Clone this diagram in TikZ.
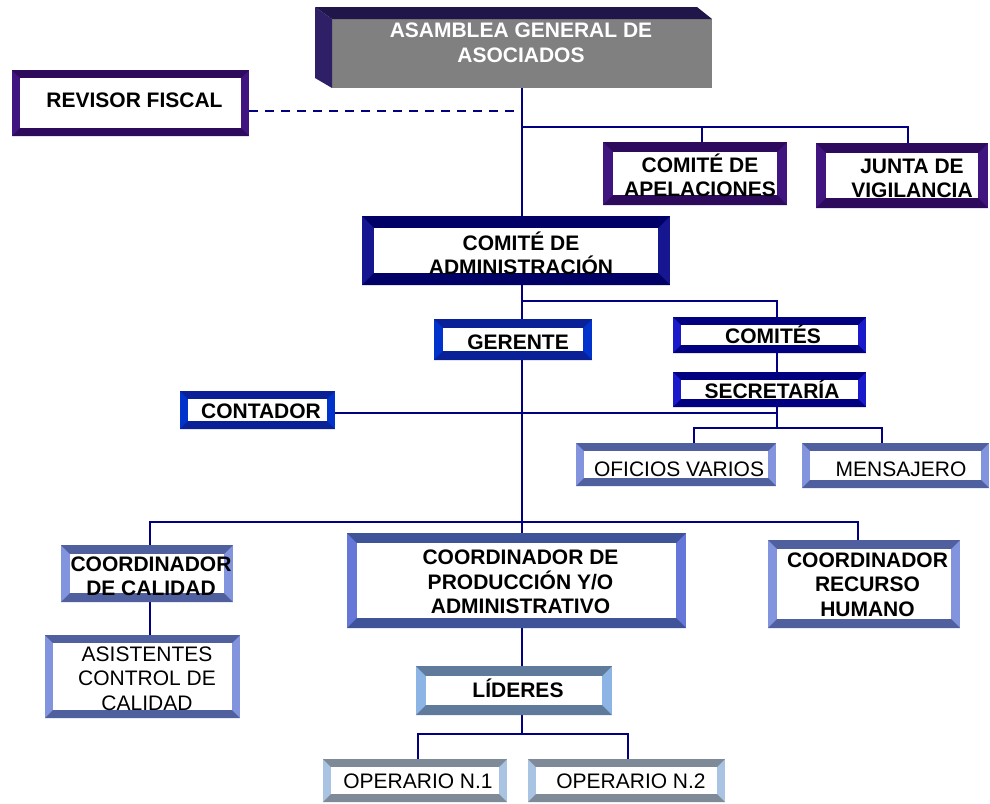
\documentclass[tikz,border=0pt]{standalone}
\usepackage{fontspec}
\setmainfont{Liberation Sans}
\usetikzlibrary{calc}

\pgfdeclarelayer{bg}
\pgfsetlayers{bg,main}

% line and frame palettes (TB = top/bottom bands, LR = side bands)
\definecolor{linec}{HTML}{000080}
\definecolor{asmTop}{HTML}{21164A}
\definecolor{asmSide}{HTML}{2E1F66}
\definecolor{asmFace}{HTML}{808080}
\definecolor{purTB}{HTML}{2E0A5C}
\definecolor{purLR}{HTML}{40157F}
\definecolor{navTB}{HTML}{000066}
\definecolor{navLR}{HTML}{161690}
\definecolor{bluTB}{HTML}{0A2096}
\definecolor{bluLR}{HTML}{0033CC}
\definecolor{dkbTB}{HTML}{000080}
\definecolor{dkbLR}{HTML}{1A1ACC}
\definecolor{slaTB}{HTML}{50609E}
\definecolor{slaLR}{HTML}{8394DE}
\definecolor{cprTB}{HTML}{3F5399}
\definecolor{cprLR}{HTML}{6677DA}
\definecolor{steTB}{HTML}{5F7A9A}
\definecolor{steLR}{HTML}{8CB4E4}
\definecolor{gryTB}{HTML}{7F8A99}
\definecolor{gryLR}{HTML}{A9C3E2}

\tikzset{
  conn/.style={draw=linec, line width=2.5pt},
  dashconn/.style={draw=linec, line width=2.5pt, dash pattern=on 9pt off 7pt},
  % base anchor sits on the baseline of the last line
  lbl/.style={anchor=base, align=center, inner sep=0pt, outer sep=0pt,
    font=\fontsize{21}{24.5}\selectfont},
  lblb/.style={lbl, font=\fontsize{21}{24.5}\selectfont\bfseries},
  framebox/.style={inner sep=0pt, outer sep=0pt, draw=none}
}

% bevelled frame: name, left, top, right, bottom, bevel width, palette
\newcommand\bevelbox[7]{%
  \node[framebox, fill=#7LR, minimum width={(#4-#2)*1pt}, minimum height={(#5-#3)*1pt}]
    (#1) at ({(#2+#4)/2},{(#3+#5)/2}) {};
  \fill[#7TB] (#1.north west) -- (#1.north east) -- ([shift={(-#6,#6)}]#1.north east)
    -- ([shift={(#6,#6)}]#1.north west) -- cycle;
  \fill[#7TB] (#1.south west) -- (#1.south east) -- ([shift={(-#6,-#6)}]#1.south east)
    -- ([shift={(#6,-#6)}]#1.south west) -- cycle;
  \fill[white] ([shift={(#6,#6)}]#1.north west) rectangle ([shift={(-#6,-#6)}]#1.south east);
}

\begin{document}
\begin{tikzpicture}[x=1pt,y=-1pt]
\useasboundingbox (0,0) rectangle (990,803);

% ---- top body: extruded grey block ----
\node[framebox, fill=asmFace, minimum width=380pt, minimum height=69pt] (asam) at (522,53.5) {};
\fill[asmTop] ([shift={(-17,-12)}]asam.north west) -- ([shift={(-15,-12)}]asam.north east)
  -- (asam.north east) -- (asam.north west) -- cycle;
\fill[asmSide] ([shift={(-17,-12)}]asam.north west) -- (asam.north west)
  -- (asam.south west) -- ([shift={(-17,-10)}]asam.south west) -- cycle;
\node[lblb, text=white] (asam-t) at (521,62) {ASAMBLEA GENERAL DE\\ASOCIADOS};

% ---- frames ----
\bevelbox{rev}{12}{70}{249}{136}{8}{pur}
\bevelbox{apel}{603}{142}{787}{205}{10}{pur}
\bevelbox{junta}{816}{143}{988}{208}{10}{pur}
\bevelbox{cadm}{362}{216}{670}{285}{12}{nav}
\bevelbox{ger}{434}{319}{592}{360}{9}{blu}
\bevelbox{com}{673}{317}{866}{353}{8}{dkb}
\bevelbox{sec}{673}{372}{866}{407}{8}{dkb}
\bevelbox{cont}{180}{391}{335}{429}{8}{blu}
\bevelbox{ofi}{576}{443}{776}{486}{8}{sla}
\bevelbox{men}{802}{443}{989}{488}{8}{sla}
\bevelbox{ccal}{61}{545}{233}{602}{9}{sla}
\bevelbox{asis}{45}{635}{240}{718}{8}{sla}
\bevelbox{cprod}{347}{533}{686}{628}{10}{cpr}
\bevelbox{crh}{768}{540}{960}{628}{9}{sla}
\bevelbox{lid}{416}{666}{612}{715}{10}{ste}
\bevelbox{op1}{323}{759}{507}{802}{8}{gry}
\bevelbox{op2}{528}{759}{725}{802}{8}{gry}

% ---- labels ----
\node[lblb] (rev-t)   at (134.5,107) {REVISOR FISCAL};
\node[lblb] (apel-t)  at (700,196.5) {COMITÉ DE\\APELACIONES};
\node[lblb] (junta-t) at (912,197.5) {JUNTA DE\\VIGILANCIA};
\node[lblb] (cadm-t)  at (521,274.5) {COMITÉ DE\\ADMINISTRACIÓN};
\node[lblb] (ger-t)   at (518,349) {GERENTE};
\node[lblb] (com-t)   at (773,343) {COMITÉS};
\node[lblb] (sec-t)   at (772,398) {SECRETARÍA};
\node[lblb] (cont-t)  at (261,418) {CONTADOR};
\node[lbl]  (ofi-t)   at (679,476) {OFICIOS VARIOS};
\node[lbl]  (men-t)   at (901,476) {MENSAJERO};
\node[lblb] (ccal-t)  at (151,595.5) {COORDINADOR\\DE CALIDAD};
\node[lbl]  (asis-t)  at (147,710) {ASISTENTES\\CONTROL DE\\CALIDAD};
\node[lblb] (cprod-t) at (520.5,613.5) {COORDINADOR DE\\PRODUCCIÓN Y/O\\ADMINISTRATIVO};
\node[lblb] (crh-t)   at (867.5,616) {COORDINADOR\\RECURSO\\HUMANO};
\node[lblb] (lid-t)   at (518,697) {LÍDERES};
\node[lbl]  (op1-t)   at (418,788) {OPERARIO N.1};
\node[lbl]  (op2-t)   at (631,788) {OPERARIO N.2};

% ---- connectors ----
\coordinate (trunk) at (522,0);
\coordinate (dashj) at (522,111);
\coordinate (b1) at (522,127);
\coordinate (b2) at (522,301);
\coordinate (sx) at (777,0);
\coordinate (b3) at (777,428);
\coordinate (b4) at (777,413);
\coordinate (b5) at (522,522);
\coordinate (b6) at (522,734);

\begin{pgfonlayer}{bg}
  \draw[conn] (trunk |- asam.south) -- (trunk |- cadm.north);
  \draw[dashconn] (rev.east |- dashj) -- (dashj);
  \draw[conn] (b1) -| ([xshift=7pt]apel.north);
  \draw[conn] (b1) -| ([xshift=6pt]junta.north);
  \draw[conn] (trunk |- cadm.south) -- (trunk |- ger.north);
  \draw[conn] (b2) -| (sx |- com.north);
  \draw[conn] (sx |- com.south) -- (sx |- sec.north);
  \draw[conn] (sx |- sec.south) -- (b3);
  \draw[conn] ([xshift=18pt]ofi.north) |- (b3) -| ([xshift=-13.5pt]men.north);
  \draw[conn] (cont.east |- b4) -- (b4);
  \draw[conn] (trunk |- ger.south) -- (trunk |- cprod.north);
  \draw[conn] ([xshift=3pt]ccal.north) |- (b5) -| ([xshift=-6pt]crh.north);
  \draw[conn] ([xshift=3pt]ccal.south) -- ([xshift=3pt]ccal.south |- asis.north);
  \draw[conn] (trunk |- cprod.south) -- (trunk |- lid.north);
  \draw[conn] (trunk |- lid.south) -- (b6);
  \draw[conn] ([xshift=3pt]op1.north) |- (b6) -| ([xshift=1.5pt]op2.north);
\end{pgfonlayer}
\end{tikzpicture}
\end{document}
